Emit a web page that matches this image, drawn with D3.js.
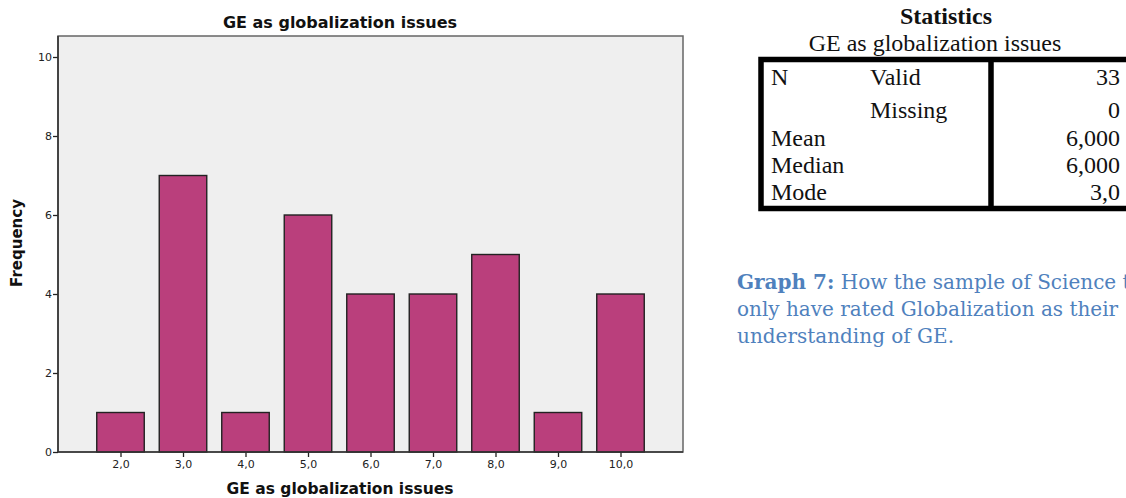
<!DOCTYPE html>
<html>
<head>
<meta charset="utf-8">
<script src="https://cdn.jsdelivr.net/npm/d3@7"></script>
<style>
  body { margin: 0; background: #fff; }
  svg text { fill: #111; }
</style>
</head>
<body>
<svg id="page" width="1126" height="498"></svg>
<script>
// chart data
var categories = [2, 3, 4, 5, 6, 7, 8, 9, 10];
var tickLabels = ['2,0', '3,0', '4,0', '5,0', '6,0', '7,0', '8,0', '9,0', '10,0'];
var frequency = [1, 7, 1, 6, 4, 4, 5, 1, 4];
var yTicks = [0, 2, 4, 6, 8, 10];

// statistics table
var statLabels = ['N', '', 'Mean', 'Median', 'Mode'];
var statSub = ['Valid', 'Missing', '', '', ''];
var statValues = ['33', '0', '6,000', '6,000', '3,0'];

var svg = d3.select('#page');

var plotL = 58, plotR = 683, plotT = 36, plotB = 452;

var x = d3.scaleLinear().domain([1, 11]).range([plotL, plotR]);
var y = d3.scaleLinear().domain([0, 10]).range([plotB, 57]);
var barW = x(1.76) - x(1);

// plot background + frame
svg.append('rect')
    .attr('x', plotL)
    .attr('y', plotT)
    .attr('width', plotR - plotL)
    .attr('height', plotB - plotT)
    .attr('fill', '#efefef')
    .attr('stroke', '#666')
    .attr('stroke-width', 1.5);

// bars
svg.selectAll('.bar')
    .data(frequency)
    .enter()
    .append('rect')
    .attr('class', 'bar')
    .attr('x', function(d, i) { return x(categories[i]) - barW / 2; })
    .attr('y', function(d) { return y(d); })
    .attr('width', barW)
    .attr('height', function(d) { return plotB - y(d); })
    .attr('fill', '#ba3f7c')
    .attr('stroke', '#222')
    .attr('stroke-width', 1.4);

// y axis
var yAxis = svg.append('g')
    .attr('transform', 'translate(' + plotL + ',0)')
    .call(d3.axisLeft(y).tickValues(yTicks).tickSize(5).tickFormat(d3.format('d')));
yAxis.select('.domain').remove();
yAxis.selectAll('line').attr('stroke', '#222').attr('stroke-width', 1.3);
yAxis.selectAll('text')
    .attr('x', -6)
    .style('font-family', 'DejaVu Sans')
    .style('font-size', '11px')
    .style('fill', '#222');

// x axis
var xAxis = svg.append('g')
    .attr('transform', 'translate(0,' + plotB + ')')
    .call(d3.axisBottom(x).tickValues(categories).tickSize(5)
        .tickFormat(function(d, i) { return tickLabels[i]; }));
xAxis.select('.domain').remove();
xAxis.selectAll('line').attr('stroke', '#222').attr('stroke-width', 1.3);
xAxis.selectAll('text')
    .attr('y', 8)
    .style('font-family', 'DejaVu Sans')
    .style('font-size', '11px')
    .style('fill', '#222');

// axis lines
svg.append('line')
    .attr('x1', plotL).attr('y1', plotT)
    .attr('x2', plotL).attr('y2', plotB)
    .attr('stroke', '#333').attr('stroke-width', 1.6);
svg.append('line')
    .attr('x1', plotL).attr('y1', plotB)
    .attr('x2', plotR).attr('y2', plotB)
    .attr('stroke', '#333').attr('stroke-width', 1.6);

// titles
svg.append('text')
    .text('GE as globalization issues')
    .attr('x', 340)
    .attr('y', 28)
    .attr('text-anchor', 'middle')
    .style('font-family', 'DejaVu Sans')
    .style('font-weight', 'bold')
    .style('font-size', '16px');

svg.append('text')
    .text('GE as globalization issues')
    .attr('x', 340)
    .attr('y', 494)
    .attr('text-anchor', 'middle')
    .style('font-family', 'DejaVu Sans')
    .style('font-weight', 'bold')
    .style('font-size', '15.5px');

svg.append('text')
    .text('Frequency')
    .attr('transform', 'translate(22,243) rotate(-90)')
    .attr('text-anchor', 'middle')
    .style('font-family', 'DejaVu Sans')
    .style('font-weight', 'bold')
    .style('font-size', '15px');

// statistics table ----------------------------------------------
svg.append('text')
    .text('Statistics')
    .attr('x', 946)
    .attr('y', 24)
    .attr('text-anchor', 'middle')
    .style('font-family', 'Liberation Serif')
    .style('font-weight', 'bold')
    .style('font-size', '24px');

svg.append('text')
    .text('GE as globalization issues')
    .attr('x', 935)
    .attr('y', 51)
    .attr('text-anchor', 'middle')
    .style('font-family', 'Liberation Serif')
    .style('font-size', '24px');

var rowY = [85, 118, 146, 173, 200];

svg.append('path')
    .attr('d', 'M1130,59.5 L761,59.5 L761,208.5 L1130,208.5 M991,59.5 L991,208.5')
    .attr('fill', 'none')
    .attr('stroke', '#000')
    .attr('stroke-width', 5.5);

statLabels.forEach(function(t, i) {
    svg.append('text')
        .text(t)
        .attr('x', 771)
        .attr('y', rowY[i])
        .style('font-family', 'Liberation Serif')
        .style('font-size', '24px');
    svg.append('text')
        .text(statSub[i])
        .attr('x', 870)
        .attr('y', rowY[i])
        .style('font-family', 'Liberation Serif')
        .style('font-size', '24px');
    svg.append('text')
        .text(statValues[i])
        .attr('x', 1120)
        .attr('y', rowY[i])
        .attr('text-anchor', 'end')
        .style('font-family', 'Liberation Serif')
        .style('font-size', '24px');
});

// caption
var caption = svg.append('text')
    .style('font-family', 'DejaVu Serif')
    .style('font-size', '20px')
    .style('fill', '#4f81bd');

caption.append('tspan')
    .attr('x', 737).attr('y', 289)
    .style('font-weight', 'bold')
    .text('Graph 7:');
caption.append('tspan')
    .text(' How the sample of Science teachers');
caption.append('tspan')
    .attr('x', 737).attr('y', 316)
    .text('only have rated Globalization as their');
caption.append('tspan')
    .attr('x', 737).attr('y', 343)
    .text('understanding of GE.');
</script>
</body>
</html>
